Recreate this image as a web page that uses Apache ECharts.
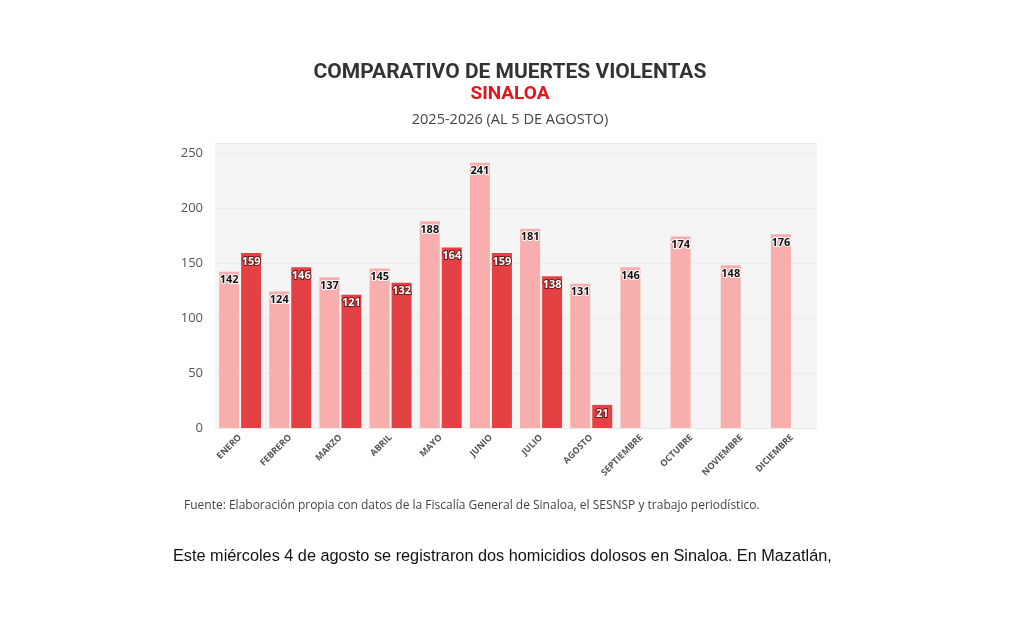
<!DOCTYPE html><html><head><meta charset="utf-8"><script src="https://cdn.jsdelivr.net/npm/echarts@6/dist/echarts.min.js"></script>
<style>body{margin:0;background:#fff}#c{width:1019px;height:630px}</style></head><body><div id="c"></div><script>
const categories=['ENERO','FEBRERO','MARZO','ABRIL','MAYO','JUNIO','JULIO','AGOSTO','SEPTIEMBRE','OCTUBRE','NOVIEMBRE','DICIEMBRE'];
const values2025=[142,124,137,145,188,241,181,131,146,174,148,176];
const values2026=[159,146,121,132,164,159,138,21,null,null,null,null];
const yTicks=[0,50,100,150,200,250];
const chart=echarts.init(document.getElementById('c'));
const ff='Open Sans';
chart.setOption({
 backgroundColor:'#fff',
 title:[{text:'COMPARATIVO DE MUERTES VIOLENTAS',left:505,textAlign:'center',top:57,textStyle:{fontFamily:'Roboto',fontSize:21,fontWeight:'bold',color:'#333'}},
  {text:'SINALOA',left:505,textAlign:'center',top:80,textStyle:{fontFamily:'Roboto',fontSize:19,fontWeight:'bold',color:'#e3141a'}},
  {text:'2025-2026 (AL 5 DE AGOSTO)',left:505,textAlign:'center',top:107,textStyle:{fontFamily:ff,fontSize:14.5,fontWeight:'normal',color:'#444'}}],
 grid:{left:215,right:202,top:143,bottom:202,backgroundColor:'#f5f5f5',show:true,borderWidth:0},
 xAxis:{type:'category',data:categories,axisTick:{show:false},axisLine:{show:false},
  axisLabel:{rotate:45,fontFamily:ff,fontSize:9,fontWeight:'bold',color:'#555',margin:8,interval:0}},
 yAxis:{type:'value',min:0,max:259,interval:50,splitLine:{lineStyle:{color:'#ebebeb'}},
  axisLabel:{showMaxLabel:false,fontFamily:ff,fontSize:13,color:'#555',margin:12,formatter:v=>yTicks.includes(v)?v:''}},
 series:[
  {type:'bar',data:values2025,barWidth:20,barGap:'10%',itemStyle:{color:'#f8aeac'},
   label:{show:true,position:'insideTop',distance:3,fontFamily:ff,fontSize:11,fontWeight:'bold',color:'#111',textBorderColor:'#fff',textBorderWidth:2}},
  {type:'bar',data:values2026,barWidth:20,itemStyle:{color:'#e34144'},
   label:{show:true,position:'insideTop',distance:3,fontFamily:ff,fontSize:11,fontWeight:'bold',color:'#fff',textBorderColor:'#6b1a1a',textBorderWidth:2}}
 ],
 graphic:[
  {type:'text',left:184,top:500,style:{text:'Fuente: Elaboración propia con datos de la Fiscalía General de Sinaloa, el SESNSP y trabajo periodístico.',font:'12px "Open Sans"',fill:'#444'}},
  {type:'text',left:173,top:549,style:{text:'Este miércoles 4 de agosto se registraron dos homicidios dolosos en Sinaloa. En Mazatlán,',font:'16.3px "Liberation Sans"',fill:'#111'}}
 ]
});
</script></body></html>
